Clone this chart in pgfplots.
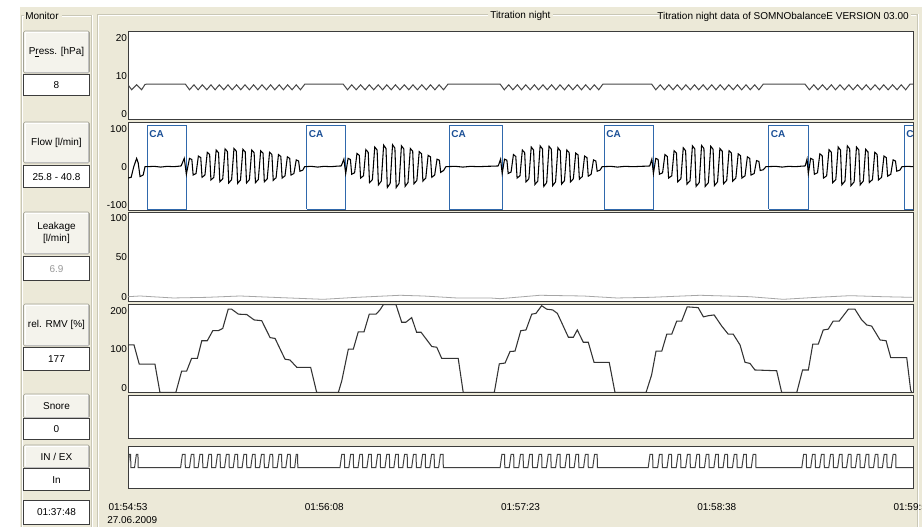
\documentclass[border=0pt]{standalone}
\usepackage{pgfplots}
\pgfplotsset{compat=1.18}
\usepackage{fontspec}
\setmainfont{Liberation Sans}
\definecolor{winbg}{HTML}{ECE9D8}
\definecolor{etch}{HTML}{C9C7B6}
\definecolor{btnface}{HTML}{F4F3EC}
\definecolor{btnedge}{HTML}{A3A294}
\definecolor{boxedge}{HTML}{3C3C3C}
\definecolor{cablue}{HTML}{2F68AC}
\definecolor{catext}{HTML}{1A4F96}
\newcommand\ui{\fontsize{7.5}{8.5}\selectfont}
\newcommand\btn[3]{%
  \filldraw[fill=btnface, draw=btnedge, rounded corners=1.2] (23.5,#1) rectangle (89.5,#2);
  \draw[white] (24.8,{#2-1.5}) -- (24.8,{#1+1.3}) -- (88,{#1+1.3});
  \draw[black!25] (88.2,{#1+1.5}) -- (88.2,{#2-1.2}) -- (25,{#2-1.2});
  \node[align=center, font=\ui, inner sep=0pt] at (56.5,{(#1+#2)/2}) {#3};}
\newcommand\val[4]{%
  \filldraw[fill=white, draw=boxedge, line width=0.75pt] (23.5,#1) rectangle (89.5,#2);
  \node[font=\ui, text=#4, inner sep=0pt] at (56.5,{(#1+#2)/2}) {#3};}
\pgfplotsset{
  panel/.style={scale only axis, width=588.75pt, anchor=north west,
    xmin=0, xmax=300, xtick=\empty,
    axis background/.style={fill=white},
    axis line style={draw=boxedge, line width=0.75pt},
    major tick length=0pt, tick style={draw=none},
    yticklabel style={font=\ui, inner sep=0pt, xshift=-0.6pt},
    clip=true},
}
\begin{document}
\begin{tikzpicture}
\useasboundingbox (0pt,0pt) rectangle (691.5pt,-395.25pt);
\clip (0pt,0pt) rectangle (691.5pt,-395.25pt);
\begin{scope}[x=0.75pt,y=-0.75pt]
  \fill[white] (0,0) rectangle (922,527);
  \fill[winbg] (20,7.5) rectangle (922,527);
  % Monitor group frame
  \draw[etch] (21.5,540) -- (21.5,15) -- (24,15);
  \draw[white] (22.5,540) -- (22.5,16) -- (24,16);
  \draw[etch] (61.5,15) -- (91.5,15) -- (91.5,540);
  \draw[white] (61.5,16) -- (90.5,16);
  \draw[white] (92.5,15) -- (92.5,540);
  % main group frame
  \draw[etch] (97.5,540) -- (97.5,14) -- (488,14);
  \draw[white] (98.5,540) -- (98.5,15) -- (488,15);
  \draw[etch] (553,14) -- (659,14);
  \draw[white] (553,15) -- (659,15);
  \draw[etch] (911,14) -- (917,14) -- (917,540);
  \draw[white] (911,15) -- (916,15);
  \draw[white] (918,14) -- (918,540);
  \node[anchor=west, inner sep=0pt, font=\ui] at (25,15.5) {Monitor};
  \node[anchor=west, inner sep=0pt, font=\ui] at (490,16) {Titration night};
  \node[anchor=east, inner sep=0pt, font=\ui] at (909,17) {Titration night data of SOMNObalanceE VERSION 03.00};
  % buttons and value boxes
  \btn{31}{73}{P\underline{r}ess. [hPa]}
  \val{75}{96}{8}{black}
  \btn{122}{163}{Flow [l/min]}
  \val{166}{188}{25.8 - 40.8}{black}
  \btn{212}{254}{Leakage\\[1pt][l/min]}
  \val{257}{281}{6.9}{black!40}
  \btn{304}{346}{rel. RMV [\%]}
  \val{348}{371}{177}{black}
  \btn{394}{418}{Snore}
  \val{419}{440}{0}{black}
  \btn{445}{468}{IN / EX}
  \val{469}{491}{In}{black}
  \val{501}{524}{01:37:48}{black}
  \node[anchor=west, inner sep=0pt, font=\ui] at (107,520) {27.06.2009};
\end{scope}

% ---------------- Pressure ----------------
\begin{axis}[panel, at={(96pt,-23.625pt)}, height=66.375pt,
  ymin=-1.49, ymax=21.62, ytick={0,10,20}, yticklabels={0,10,20}]
\addplot[color=black!72, line width=0.75pt] coordinates {
(0,7.7)(1.4,6.4)(3.3,7.7)(5.2,6.4)(6.5,7.8)(7.4,7.9)(21.9,7.9)
(23.5,6.4)(25.2,7.7)(26.8,6.4)(28.4,7.7)(30.1,6.4)(31.7,7.7)(33.3,6.4)(34.9,7.7)(36.6,6.4)(38.2,7.7)(39.8,6.4)(41.5,7.7)(43.1,6.4)(44.7,7.7)(46.4,6.4)(48.0,7.7)(49.6,6.4)(51.2,7.7)(52.9,6.4)(54.5,7.7)(56.1,6.4)(57.8,7.7)(59.4,6.4)(61.0,7.7)(62.7,6.4)(64.3,7.7)(65.9,6.4)(67.6,7.9)
(82.2,7.9)
(83.9,6.4)(85.5,7.7)(87.2,6.4)(88.9,7.7)(90.6,6.4)(92.2,7.7)(93.9,6.4)(95.6,7.7)(97.3,6.4)(98.9,7.7)(100.6,6.4)(102.2,7.7)(103.9,6.4)(105.6,7.7)(107.3,6.4)(108.9,7.7)(110.6,6.4)(112.3,7.7)(114.0,6.4)(115.6,7.7)(117.3,6.4)(118.9,7.7)(120.6,6.4)(122.3,7.9)
(142.2,7.9)
(143.8,6.4)(145.5,7.7)(147.1,6.4)(148.8,7.7)(150.4,6.4)(152.0,7.7)(153.7,6.4)(155.3,7.7)(156.9,6.4)(158.6,7.7)(160.2,6.4)(161.9,7.7)(163.5,6.4)(165.1,7.7)(166.8,6.4)(168.4,7.7)(170.0,6.4)(171.7,7.7)(173.3,6.4)(174.9,7.7)(176.6,6.4)(178.2,7.7)(179.9,6.4)(181.5,7.9)
(200.1,7.9)
(201.7,6.4)(203.4,7.7)(205.0,6.4)(206.7,7.7)(208.3,6.4)(209.9,7.7)(211.6,6.4)(213.2,7.7)(214.9,6.4)(216.5,7.7)(218.1,6.4)(219.8,7.7)(221.4,6.4)(223.1,7.7)(224.7,6.4)(226.3,7.7)(228.0,6.4)(229.6,7.7)(231.3,6.4)(232.9,7.7)(234.5,6.4)(236.2,7.7)(237.8,6.4)(239.5,7.7)(241.1,6.4)(242.8,7.9)
(258.7,7.9)
(260.4,6.4)(262.1,7.7)(263.7,6.4)(265.4,7.7)(267.1,6.4)(268.8,7.7)(270.4,6.4)(272.1,7.7)(273.8,6.4)(275.5,7.7)(277.1,6.4)(278.8,7.7)(280.5,6.4)(282.1,7.7)(283.8,6.4)(285.5,7.7)(287.2,6.4)(288.8,7.7)(290.5,6.4)(292.2,7.7)(293.9,6.4)(295.5,7.7)(297.2,6.4)(298.9,7.9)(300,7.9)
};
\end{axis}

% ---------------- Flow ----------------
\begin{axis}[panel, at={(96pt,-91.725pt)}, height=66.3pt,
  ymin=-116.1, ymax=117.2, ytick={-100,0,100}, yticklabels={-100,0,100}]
\addplot[cablue, line width=0.75pt] coordinates {(7.4,-112.4)(22.4,-112.4)(22.4,110)(7.4,110)(7.4,-112.4)};
\addplot[cablue, line width=0.75pt] coordinates {(68.3,-112.4)(83.2,-112.4)(83.2,110)(68.3,110)(68.3,-112.4)};
\addplot[cablue, line width=0.75pt] coordinates {(122.8,-112.4)(143.05,-112.4)(143.05,110)(122.8,110)(122.8,-112.4)};
\addplot[cablue, line width=0.75pt] coordinates {(182.0,-112.4)(200.75,-112.4)(200.75,110)(182.0,110)(182.0,-112.4)};
\addplot[cablue, line width=0.75pt] coordinates {(244.9,-112.4)(260.0,-112.4)(260.0,110)(244.9,110)(244.9,-112.4)};
\addplot[cablue, line width=0.75pt] coordinates {(296.7,-112.4)(312,-112.4)(312,110)(296.7,110)(296.7,-112.4)};
\node[anchor=north west, inner sep=0pt, font=\ui\bfseries, text=catext] at (axis cs:8.1,95) {CA};
\node[anchor=north west, inner sep=0pt, font=\ui\bfseries, text=catext] at (axis cs:69.0,95) {CA};
\node[anchor=north west, inner sep=0pt, font=\ui\bfseries, text=catext] at (axis cs:123.5,95) {CA};
\node[anchor=north west, inner sep=0pt, font=\ui\bfseries, text=catext] at (axis cs:182.7,95) {CA};
\node[anchor=north west, inner sep=0pt, font=\ui\bfseries, text=catext] at (axis cs:245.6,95) {CA};
\node[anchor=north west, inner sep=0pt, font=\ui\bfseries, text=catext] at (axis cs:297.4,95) {CA};
\addplot[black, line width=0.8pt] coordinates {
(0,-30)(1.2,-28)(2.2,0)(3.3,22)(3.9,10)(4.6,-26)(5.8,-22)(6.5,0)(7.4,0)(10,1)(12.5,-1)(15,1)(17.5,0)(20.3,2)(21.5,22)(22.3,-20)
(23.5,22)(24.4,19)(24.9,-22)(26.0,-18)
(26.9,28)(27.8,24)(28.3,-28)(29.4,-22)
(30.3,38)(31.2,32)(31.7,-35)(32.8,-28)
(33.7,44)(34.6,37)(35.1,-40)(36.2,-32)
(37.1,47)(38.0,40)(38.5,-43)(39.6,-34)
(40.5,48)(41.4,41)(41.9,-44)(43.0,-35)
(43.9,46)(44.8,39)(45.3,-43)(46.4,-34)
(47.3,44)(48.2,37)(48.7,-42)(49.8,-34)
(50.7,42)(51.6,36)(52.1,-40)(53.2,-32)
(54.1,38)(55.0,32)(55.5,-36)(56.6,-29)
(57.5,32)(58.4,27)(58.9,-30)(60.0,-24)
(60.9,26)(61.8,22)(62.3,-22)(63.4,-18)
(64.3,18)(65.2,15)(65.7,-12)(66.8,-9)
(67.5,0)(70,1)(72.5,-1)(75,1)(77.5,0)(80,1.5)(81.5,2)(82.5,20)(83.2,-18)
(84.1,22)(85.0,19)(85.5,-20)(86.6,-16)
(87.5,35)(88.4,30)(88.9,-30)(90.0,-24)
(90.9,45)(91.8,38)(92.3,-42)(93.4,-34)
(94.3,52)(95.2,44)(95.7,-48)(96.8,-38)
(97.7,57)(98.6,48)(99.1,-55)(100.2,-44)
(101.1,58)(102.0,49)(102.5,-55)(103.6,-44)
(104.5,55)(105.4,47)(105.9,-52)(107.0,-42)
(107.9,48)(108.8,41)(109.3,-45)(110.4,-36)
(111.3,40)(112.2,34)(112.7,-38)(113.8,-30)
(114.7,30)(115.6,26)(116.1,-28)(117.2,-22)
(118.1,20)(119.0,17)(119.5,-15)(120.6,-10)
(121.5,0)(125,1)(128,-1)(131,1)(134,0)(137,1)(140,1.5)(141.5,2)(142.4,20)(143.0,-18)
(143.9,20)(144.8,17)(145.3,-18)(146.4,-14)
(147.3,32)(148.2,27)(148.7,-30)(149.8,-24)
(150.7,44)(151.6,37)(152.1,-40)(153.2,-32)
(154.1,52)(155.0,44)(155.5,-47)(156.6,-38)
(157.5,55)(158.4,47)(158.9,-52)(160.0,-42)
(160.9,54)(161.8,46)(162.3,-50)(163.4,-40)
(164.3,50)(165.2,42)(165.7,-46)(166.8,-37)
(167.7,44)(168.6,37)(169.1,-40)(170.2,-32)
(171.1,36)(172.0,31)(172.5,-33)(173.6,-26)
(174.5,28)(175.4,24)(175.9,-25)(177.0,-20)
(177.9,18)(178.8,15)(179.3,-12)(180.4,-9)
(181.2,0)(184.5,1)(187,-1)(190,1)(193,0)(196,1)(198.5,1.5)(199.4,2)(200.2,20)(200.8,-18)
(201.7,22)(202.6,19)(203.1,-20)(204.3,-16)
(205.2,32)(206.1,27)(206.6,-30)(207.8,-24)
(208.7,42)(209.6,36)(210.1,-40)(211.3,-32)
(212.2,50)(213.1,42)(213.6,-46)(214.8,-37)
(215.7,55)(216.6,47)(217.1,-52)(218.3,-42)
(219.2,56)(220.1,48)(220.6,-52)(221.8,-42)
(222.7,54)(223.6,46)(224.1,-50)(225.3,-40)
(226.2,48)(227.1,41)(227.6,-45)(228.8,-36)
(229.7,42)(230.6,36)(231.1,-38)(232.3,-30)
(233.2,34)(234.1,29)(234.6,-30)(235.8,-24)
(236.7,26)(237.6,22)(238.1,-22)(239.3,-18)
(240.2,16)(241.1,14)(241.6,-10)(242.8,-8)
(243.8,0)(247.5,1)(250,-1)(252.5,1)(255,0)(257.5,1.5)(258.8,2)(259.5,20)(260.0,-18)
(260.9,22)(261.8,19)(262.3,-20)(263.5,-16)
(264.4,34)(265.3,29)(265.8,-30)(267.0,-24)
(267.9,45)(268.8,38)(269.3,-42)(270.5,-34)
(271.4,52)(272.3,44)(272.8,-48)(274.0,-38)
(274.9,55)(275.8,47)(276.3,-50)(277.5,-40)
(278.4,52)(279.3,44)(279.8,-48)(281.0,-38)
(281.9,46)(282.8,39)(283.3,-42)(284.5,-34)
(285.4,38)(286.3,32)(286.8,-35)(288.0,-28)
(288.9,28)(289.8,24)(290.3,-25)(291.5,-20)
(292.4,18)(293.3,15)(293.8,-12)(295.0,-9)
(295.8,0)(298,1)(300,0)
};
\end{axis}

% ---------------- Leakage ----------------
\begin{axis}[panel, at={(96pt,-159.525pt)}, height=66.975pt,
  ymin=-6.7, ymax=106.3, ytick={0,50,100}, yticklabels={0,50,100}]
\addplot[color=black!35, line width=0.6pt] coordinates {
(0,0)(4.6,0.9)(17.3,-1.6)(30.1,-0.8)(42.8,0.9)(55.5,-0.8)(74.6,-3.3)(87.4,-0.8)(104.0,1.8)(112.9,0.9)(125.6,-1.6)(138.3,-1.6)(142.2,-2.5)(157.4,1.8)(174.0,0.9)(186.8,-1.6)(199.5,-0.8)(218.6,1.8)(237.7,0)(250.4,-3.3)(263.2,-0.8)(276.0,1.3)(288.6,0)(299.7,-0.8)
};
\end{axis}

% ---------------- rel. RMV ----------------
\begin{axis}[panel, at={(96pt,-228.75pt)}, height=65.775pt,
  ymin=-13, ymax=214.8, ytick={0,100,200}, yticklabels={0,100,200}]
\addplot[color=black!80, line width=0.8pt] coordinates {
(0,111)(2.3,111)(4.3,61)(10.3,61)(12.2,-12)(18.3,-12)(20.5,43)(22.4,43)(24.3,76)(26.5,76)(28.2,122)(30.3,122)(32.4,148)(34.5,148)(36.2,154)(38.3,204)(39.6,204)(42.2,191)(45.4,190)(48.2,176)(51.1,174)(54.3,130)(56.2,128)(60.0,74)(61.9,72)(64.5,53)(69.8,53)(72.1,-12)(80.4,-12)(81.7,18)(84.2,100)(86.1,100)(88.0,145)(90.2,145)(92.2,191)(94.8,191)(96.3,202)(97.6,216)(102.4,216)(104.6,170)(106.2,170)(108.4,182)(110.3,144)(112.0,144)(116.1,107)(118.0,105)(119.9,76)(126.2,76)(128.1,-12)(140.0,-12)(141.9,62)(144.1,64)(146.0,94)(147.9,95)(150.1,148)(152.1,150)(154.3,191)(155.9,193)(158.1,213)(160.0,204)(162.3,202)(164.1,193)(168.3,131)(170.2,131)(171.7,150)(174.0,118)(175.9,118)(178.1,66)(183.9,66)(186.1,-12)(198.0,-12)(200.1,33)(201.8,95)(204.0,95)(205.9,139)(207.8,139)(209.7,173)(211.6,173)(213.7,210)(215.8,209)(217.9,208)(219.9,184)(221.8,187)(224.0,189)(226.9,160)(229.4,139)(231.3,139)(233.9,111)(235.8,66)(237.7,63)(239.6,46)(247.9,44)(249.8,-12)(255.6,-12)(257.8,46)(260.0,46)(261.7,113)(263.8,113)(265.7,150)(267.6,152)(269.5,173)(271.8,173)(275.3,204)(277.8,204)(280.4,176)(282.3,163)(284.2,160)(287.4,124)(289.7,122)(291.5,78)(297.6,78)(299.1,-6)(299.5,-12)
};
\end{axis}

% ---------------- Snore ----------------
\begin{axis}[panel, at={(96pt,-297pt)}, height=32.25pt,
  ymin=0, ymax=1, ytick=\empty]
\end{axis}

% ---------------- IN / EX ----------------
\begin{axis}[panel, at={(96pt,-334.5pt)}, height=32.25pt,
  ymin=-1.59, ymax=1.62, ytick=\empty,
  xtick={0,75,150,225,300},
  xticklabels={01:54:53,01:56:08,01:57:23,01:58:38,01:59:53},
  xticklabel style={font=\ui, inner sep=0pt, anchor=north, yshift=-10.5pt}]
\addplot[color=black!75, line width=0.75pt] coordinates {
(0,0)(0.5,1)(1.0,1)(1.1,0)(2.5,0)(3.2,1)(3.8,1)(3.9,0)
(20.1,0)(20.8,1)(21.8,1)(21.9,0)(23.5,0)(24.2,1)(25.2,1)(25.3,0)(26.8,0)(27.5,1)(28.5,1)(28.6,0)(30.2,0)(30.9,1)(31.9,1)(32.0,0)(33.5,0)(34.2,1)(35.2,1)(35.3,0)(36.9,0)(37.6,1)(38.6,1)(38.7,0)(40.2,0)(40.9,1)(41.9,1)(42.0,0)(43.6,0)(44.3,1)(45.3,1)(45.4,0)(46.9,0)(47.6,1)(48.6,1)(48.7,0)(50.3,0)(51.0,1)(52.0,1)(52.1,0)(53.6,0)(54.3,1)(55.3,1)(55.4,0)(57.0,0)(57.7,1)(58.7,1)(58.8,0)(60.3,0)(61.0,1)(62.0,1)(62.1,0)(63.7,0)(64.3,1)(64.8,1)(64.9,0)
(81.0,0)(81.7,1)(82.7,1)(82.8,0)(84.4,0)(85.1,1)(86.1,1)(86.2,0)(87.9,0)(88.6,1)(89.6,1)(89.7,0)(91.3,0)(92.0,1)(93.0,1)(93.1,0)(94.7,0)(95.4,1)(96.4,1)(96.5,0)(98.2,0)(98.9,1)(99.9,1)(100.0,0)(101.6,0)(102.3,1)(103.3,1)(103.4,0)(105.0,0)(105.7,1)(106.7,1)(106.8,0)(108.4,0)(109.1,1)(110.1,1)(110.2,0)(111.9,0)(112.6,1)(113.6,1)(113.7,0)(115.3,0)(116.0,1)(117.0,1)(117.1,0)(118.7,0)(119.4,1)(120.4,1)(120.5,0)
(142.2,0)(142.9,1)(143.9,1)(144.0,0)(145.7,0)(146.4,1)(147.4,1)(147.5,0)(149.3,0)(150.0,1)(151.0,1)(151.1,0)(152.8,0)(153.5,1)(154.5,1)(154.6,0)(156.4,0)(157.1,1)(158.1,1)(158.2,0)(159.9,0)(160.6,1)(161.6,1)(161.7,0)(163.4,0)(164.1,1)(165.1,1)(165.2,0)(167.0,0)(167.7,1)(168.7,1)(168.8,0)(170.5,0)(171.2,1)(172.2,1)(172.3,0)(174.1,0)(174.8,1)(175.8,1)(175.9,0)(177.6,0)(178.3,1)(179.3,1)(179.4,0)
(198.8,0)(199.5,1)(200.5,1)(200.6,0)(202.4,0)(203.1,1)(204.1,1)(204.2,0)(206.0,0)(206.7,1)(207.7,1)(207.8,0)(209.5,0)(210.2,1)(211.2,1)(211.3,0)(213.1,0)(213.8,1)(214.8,1)(214.9,0)(216.7,0)(217.4,1)(218.4,1)(218.5,0)(220.3,0)(221.0,1)(222.0,1)(222.1,0)(223.9,0)(224.6,1)(225.6,1)(225.7,0)(227.4,0)(228.1,1)(229.1,1)(229.2,0)(231.0,0)(231.7,1)(232.7,1)(232.8,0)(234.6,0)(235.3,1)(236.3,1)(236.4,0)(238.2,0)(238.9,1)(239.9,1)(240.0,0)
(257.5,0)(258.2,1)(259.2,1)(259.3,0)(260.9,0)(261.6,1)(262.6,1)(262.7,0)(264.3,0)(265.0,1)(266.0,1)(266.1,0)(267.8,0)(268.5,1)(269.5,1)(269.6,0)(271.2,0)(271.9,1)(272.9,1)(273.0,0)(274.6,0)(275.3,1)(276.3,1)(276.4,0)(278.0,0)(278.7,1)(279.7,1)(279.8,0)(281.4,0)(282.1,1)(283.1,1)(283.2,0)(284.9,0)(285.6,1)(286.6,1)(286.7,0)(288.3,0)(289.0,1)(290.0,1)(290.1,0)(291.7,0)(292.4,1)(293.4,1)(293.5,0)
(300,0)
};
\end{axis}
\end{tikzpicture}
\end{document}
